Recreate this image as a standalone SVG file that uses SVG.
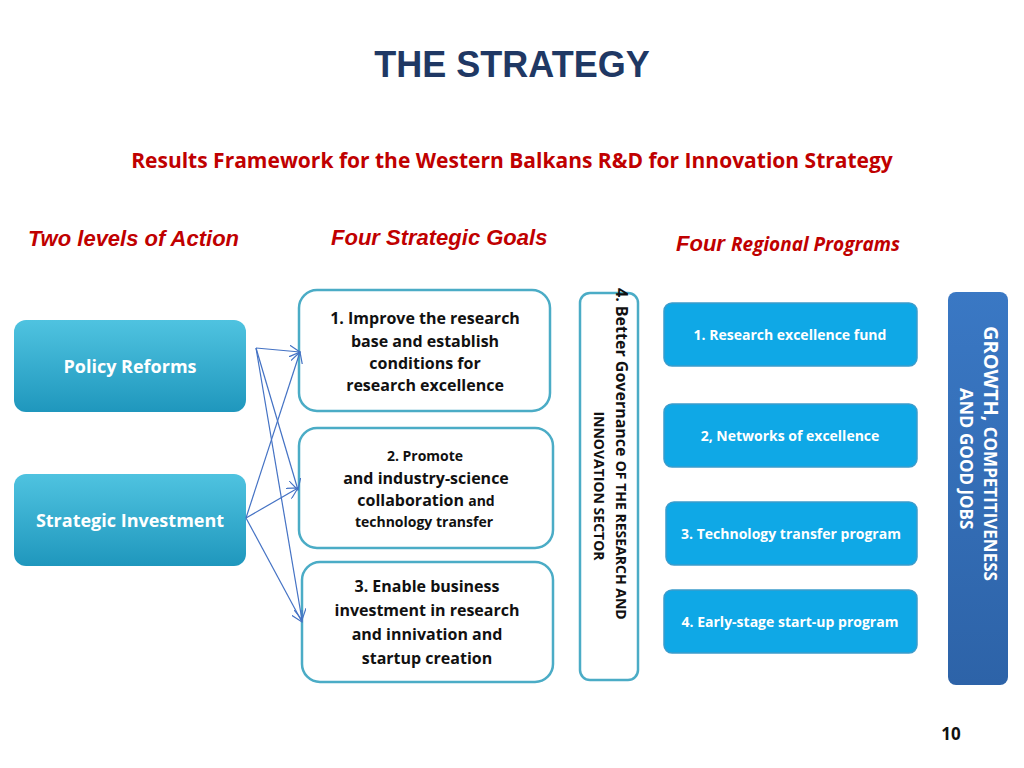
<svg xmlns="http://www.w3.org/2000/svg" width="1024" height="768" viewBox="0 0 1024 768">
<defs>
<linearGradient id="tq" x1="0" y1="0" x2="0" y2="1"><stop offset="0" stop-color="#4fc3e0"/><stop offset="1" stop-color="#1f97bd"/></linearGradient>
<linearGradient id="bl" x1="0" y1="0" x2="0" y2="1"><stop offset="0" stop-color="#3a78c4"/><stop offset="1" stop-color="#2d63a8"/></linearGradient>
<marker id="ar" markerWidth="12" markerHeight="12" refX="11" refY="6" orient="auto" markerUnits="userSpaceOnUse"><path d="M0,0 L11,6 L0,12" fill="none" stroke="#4472c4" stroke-width="1.2"/></marker>
</defs>
<style>
text{font-family:"Open Sans","Liberation Sans",sans-serif;font-weight:bold}
.goal{fill:#fff;stroke:#4bacc6;stroke-width:2.5}
.gt{font-size:16px;fill:#111;text-anchor:middle}
.prog{fill:#0fa8e6;stroke:#3b9ccc;stroke-width:1.5}
.pt{font-size:14px;fill:#fff;text-anchor:middle}
.lvl{fill:url(#tq)}
.lt{font-size:18px;fill:#fff;text-anchor:middle}
.hd{font-family:"Liberation Sans",Arial,sans-serif;font-style:italic;font-size:22px;fill:#c00000}
.cn line{stroke:#4472c4;stroke-width:1.2;marker-end:url(#ar)}
</style>
<rect width="1024" height="768" fill="#fff"/>
<text x="512" y="77" text-anchor="middle" style="font-family:'Liberation Sans',Arial,sans-serif;font-size:36px;fill:#1f3864">THE STRATEGY</text>
<text x="512" y="168" text-anchor="middle" style="font-size:21px;fill:#c00000">Results Framework for the Western Balkans R&amp;D for Innovation Strategy</text>
<text x="28" y="246" class="hd">Two levels of Action</text>
<text x="331" y="245" class="hd">Four Strategic Goals</text>
<text x="676" y="251" class="hd">Four <tspan style="font-family:'Open Sans','Liberation Sans',sans-serif;font-style:italic;font-size:19px">Regional Programs</tspan></text>
<g id="policy"><rect x="14" y="320" width="232" height="92" rx="12" class="lvl"/><text x="130" y="373" class="lt">Policy Reforms</text></g>
<g id="strategic"><rect x="14" y="474" width="232" height="92" rx="12" class="lvl"/><text x="130" y="527" class="lt">Strategic Investment</text></g>
<g id="goal1"><rect x="299" y="290" width="251" height="121" rx="18" class="goal"/>
<text class="gt"><tspan x="425" y="324">1. Improve the research</tspan><tspan x="425" y="347">base and establish</tspan><tspan x="425" y="369">conditions for</tspan><tspan x="425" y="391">research excellence</tspan></text></g>
<g id="goal2"><rect x="299" y="428" width="254" height="120" rx="18" class="goal"/>
<text class="gt"><tspan x="425" y="461" font-size="14">2. Promote</tspan><tspan x="426" y="484">and industry-science</tspan><tspan x="426" y="506">collaboration <tspan font-size="14">and</tspan></tspan><tspan x="424" y="527" font-size="14">technology transfer</tspan></text></g>
<g id="goal3"><rect x="302" y="562" width="251" height="120" rx="18" class="goal"/>
<text class="gt"><tspan x="427" y="592">3. Enable business</tspan><tspan x="427" y="616">investment in research</tspan><tspan x="427" y="640">and innivation and</tspan><tspan x="427" y="664">startup creation</tspan></text></g>
<g id="goal4"><rect x="580" y="293" width="58" height="387" rx="10" fill="#fff" stroke="#4bacc6" stroke-width="2.5"/>
<text transform="translate(616,288) rotate(90)" style="font-size:16px;fill:#111">4. Better Governance <tspan font-size="14">OF THE RESEARCH AND</tspan></text>
<text transform="translate(594,486) rotate(90)" text-anchor="middle" style="font-size:14px;fill:#111">INNOVATION SECTOR</text></g>
<g id="p1"><rect x="664" y="303" width="253" height="63" rx="8" class="prog"/><text x="790" y="340" class="pt">1. Research excellence fund</text></g>
<g id="p2"><rect x="664" y="404" width="253" height="63" rx="8" class="prog"/><text x="790" y="441" class="pt">2, Networks of excellence</text></g>
<g id="p3"><rect x="666" y="502" width="251" height="63" rx="8" class="prog"/><text x="791" y="539" class="pt">3. Technology transfer program</text></g>
<g id="p4"><rect x="664" y="590" width="253" height="63" rx="8" class="prog"/><text x="790" y="627" class="pt">4. Early-stage start-up program</text></g>
<g id="growth"><rect x="948" y="292" width="60" height="393" rx="8" fill="url(#bl)"/>
<text transform="translate(984,326) rotate(90)" style="font-size:20px;fill:#fff">GROWTH, <tspan font-size="17">COMPETITIVENESS</tspan></text>
<text transform="translate(960,388) rotate(90)" style="font-size:18px;fill:#fff">AND <tspan font-size="17">GOOD JOBS</tspan></text></g>
<g id="connectors" class="cn">
<line x1="256" y1="348" x2="300" y2="352"/>
<line x1="256" y1="348" x2="298" y2="490"/>
<line x1="256" y1="348" x2="302" y2="620"/>
<line x1="246" y1="518" x2="300" y2="352"/>
<line x1="246" y1="518" x2="298" y2="488"/>
<line x1="246" y1="518" x2="302" y2="622"/>
</g>
<text x="951" y="740" text-anchor="middle" style="font-size:17px;fill:#111">10</text>
</svg>
